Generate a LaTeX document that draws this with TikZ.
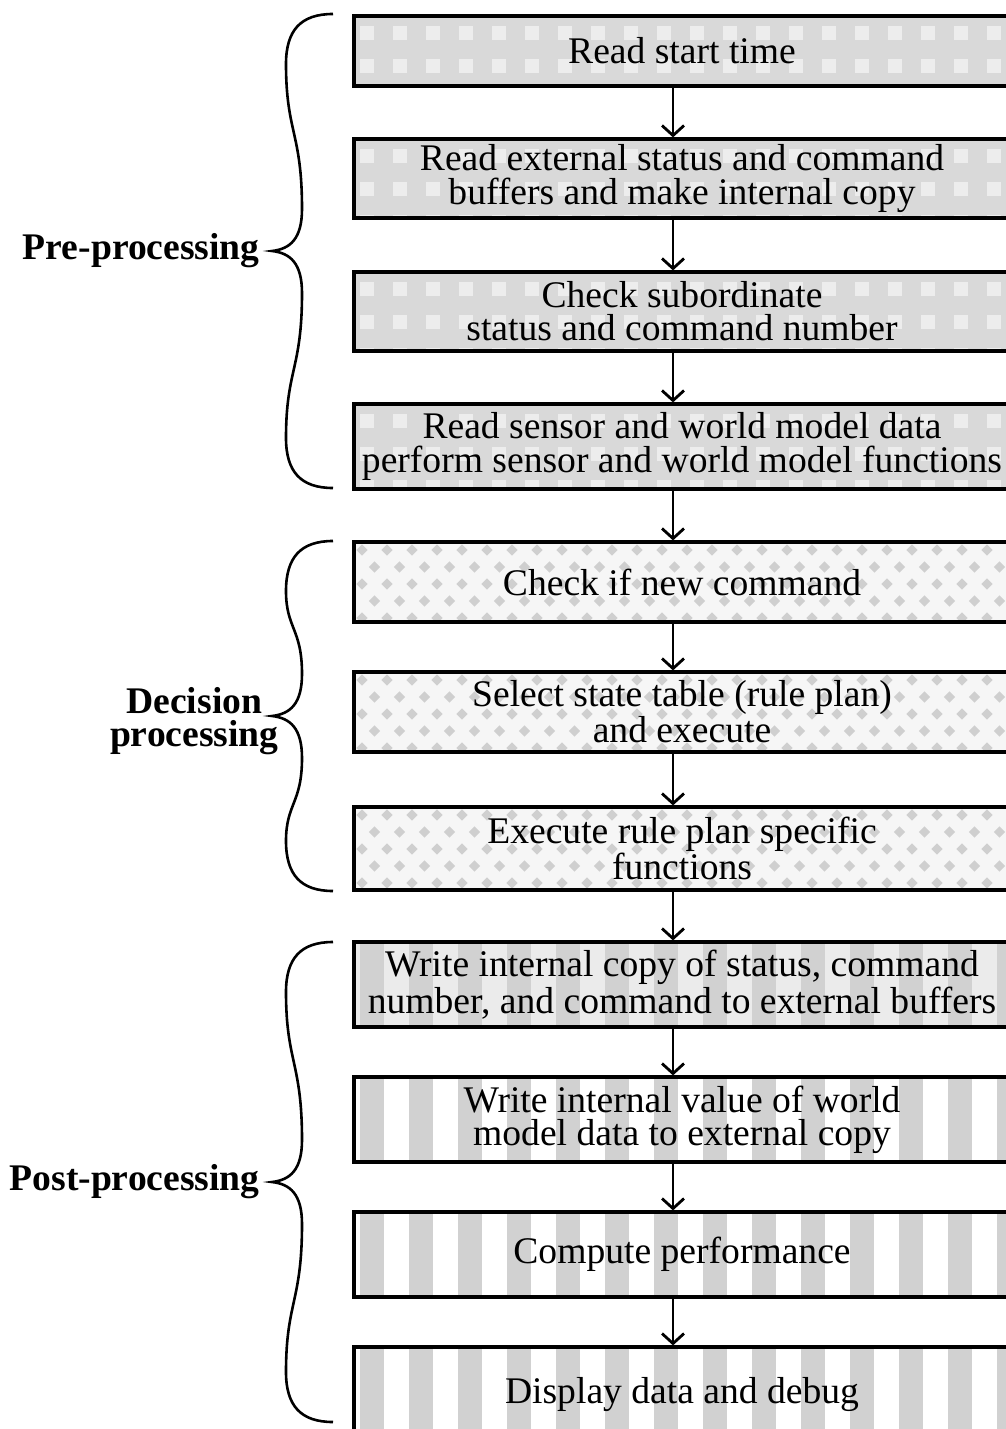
\documentclass[tikz,border=0pt]{standalone}
\usepackage{fontspec}
\setmainfont{Liberation Serif}
\usetikzlibrary{arrows.meta}

% one unit = one half point, y grows downwards
\tikzset{
  x=0.5pt, y=-0.5pt,
  stepbox/.style={draw=black, line width=1.6pt, minimum width=328pt,
    inner sep=0pt, align=center, font=\fontsize{18.8}{16.6}\selectfont},
  % plaid shading of the pre-processing steps
  plaid/.style={stepbox, path picture={
    \fill[gray!30] (path picture bounding box.south west) rectangle (path picture bounding box.north east);
    \foreach \i in {0,...,21}{\foreach \j in {0,...,3}{
      \fill[white, opacity=.55] ([xshift=\i*16.5pt+3pt, yshift=-\j*16.5pt-5pt]path picture bounding box.north west) rectangle ++(7pt,-7pt);}}
  }},
  % dotted diamonds of the decision steps
  diamonds/.style={stepbox, path picture={
    \fill[gray!7] (path picture bounding box.south west) rectangle (path picture bounding box.north east);
    \foreach \i in {0,...,27}{\foreach \j in {0,...,5}{
      \pgfmathsetmacro\off{mod(\j,2)*6.25}
      \fill[gray!38] ([xshift=\i*12.5pt+\off pt+4pt, yshift=-\j*8.5pt-4pt]path picture bounding box.north west)
        +(0,-2.8pt) -- +(2.8pt,0) -- +(0,2.8pt) -- +(-2.8pt,0) -- cycle;}}
  }},
  % vertical stripes of the post-processing steps
  stripes/.style={stepbox, path picture={
    \fill[#1] (path picture bounding box.south west) rectangle (path picture bounding box.north east);
    \foreach \i in {0,...,13}{
      \fill[gray!36] ([xshift=\i*24.5pt+3pt]path picture bounding box.north west) rectangle ([xshift=\i*24.5pt+15pt]path picture bounding box.south west);}
  }},
  stripes/.default=white,
  arr/.style={line width=1.4pt, -{Straight Barb[length=5pt, width=11pt, line width=1.4pt]}},
  brc/.style={line width=1.3pt},
  grouplabel/.style={font=\fontsize{18.8}{16.6}\selectfont\bfseries, align=center, inner sep=0pt}
}

% a step box: name, style, top, bottom, text
\newcommand\stepnode[5]{%
  \node[#2, minimum height={(#4-#3)*0.5pt}] (#1) at (682,{(#3+#4)/2+2}) {#5};}

% a curly brace opening to the right: tip height, half height
\newcommand\groupbrace[2]{%
  \draw[brc] (333,{#1-#2}) .. controls (301,{#1-#2}) and (286,{#1-#2+16}) .. (286,{#1-#2+50})
    .. controls (286,{#1-#2/2}) and (302,{#1-#2/2}) .. (302,{#1-42})
    .. controls (302,{#1-12}) and (290,{#1-2}) .. (272,#1)
    .. controls (290,{#1+2}) and (302,{#1+12}) .. (302,{#1+42})
    .. controls (302,{#1+#2/2}) and (286,{#1+#2/2}) .. (286,{#1+#2-50})
    .. controls (286,{#1+#2-16}) and (301,{#1+#2}) .. (333,{#1+#2});}

\begin{document}
\begin{tikzpicture}
\useasboundingbox[fill=white] (0,0) rectangle (1006,1429);

\stepnode{b1}{plaid}{14}{84}{Read start time}
\stepnode{b2}{plaid}{137}{216}{Read external status and command\\ buffers and make internal copy}
\stepnode{b3}{plaid}{270}{349}{Check subordinate\\ status and command number}
\stepnode{b4}{plaid}{402}{487}{Read sensor and world model data\\ perform sensor and world model functions}
\stepnode{b5}{diamonds}{540}{620}{Check if new command}
\stepnode{b6}{diamonds}{670}{750}{Select state table (rule plan)\\ and execute}
\stepnode{b7}{diamonds}{805}{888}{Execute rule plan specific\\ functions}
\stepnode{b8}{stripes=gray!16}{940}{1025}{Write internal copy of status, command\\ number, and command to external buffers}
\stepnode{b9}{stripes}{1075}{1160}{Write internal value of world\\ model data to external copy}
\stepnode{b10}{stripes}{1210}{1295}{Compute performance}
\stepnode{b11}{stripes}{1345}{1440}{Display data and debug}

\coordinate (ax) at (673,0);
\foreach \a/\b in {b1/b2,b2/b3,b3/b4,b4/b5,b5/b6,b6/b7,b7/b8,b8/b9,b9/b10,b10/b11}
  \draw[arr] (\a.south -| ax) -- (\b.north -| ax);

\groupbrace{251}{237}
\groupbrace{716}{175}
\groupbrace{1182}{240}

\node[grouplabel, anchor=east] (pre) at (260,251) {Pre-processing};
\node[grouplabel, anchor=east] (dec) at (279,721) {Decision\\ processing};
\node[grouplabel, anchor=east] (post) at (260,1182) {Post-processing};
\end{tikzpicture}
\end{document}
